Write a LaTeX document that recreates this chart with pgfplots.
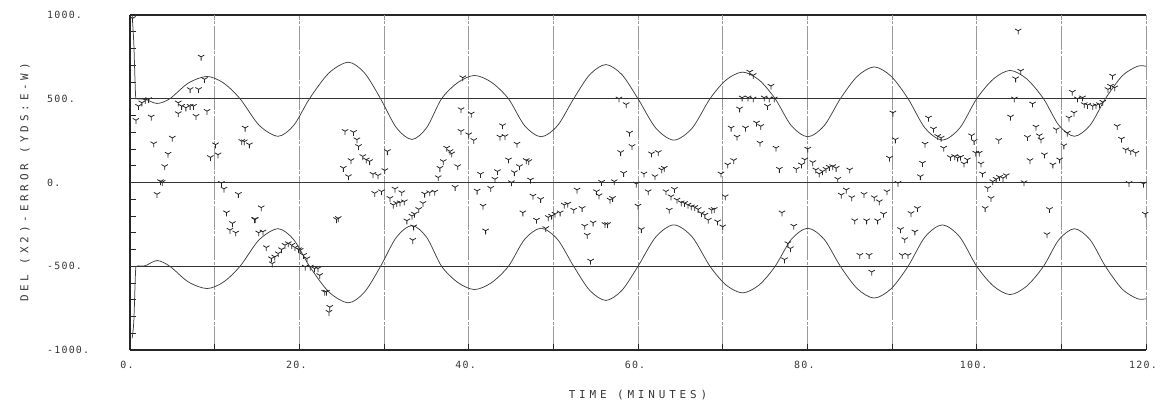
\documentclass[border=0pt]{standalone}
\usepackage{fontspec}
\setmainfont{DejaVu Sans Mono}
\newfontfamily\tickfont[LetterSpace=12]{DejaVu Sans Mono}
\newfontfamily\labfont[LetterSpace=35]{DejaVu Sans Mono}
\usepackage{pgfplots}
\pgfplotsset{compat=1.18}
\usetikzlibrary{plotmarks}

\pgfplotstableread{
t v
0.25 1000
0.45 830
0.65 530
0.8 500
1.8 497
3.2 472
4.7 500
6.9 594
9.1 633
11.05 594
13.0 500
15.25 342
17.5 276
19.35 342
21.2 500
23.5 654
25.8 718
27.7 654
29.6 500
31.45 328
33.3 257
35.05 328
36.8 500
38.75 598
40.7 639
42.7 598
44.7 500
46.6 340
48.55 273
50.5 340
52.4 500
54.3 644
56.2 704
58.1 644
60.0 500
62.1 325
64.25 253
66.4 325
68.5 500
70.4 612
72.35 659
74.3 612
76.2 500
78.1 340
80.05 273
82.0 340
83.9 500
85.9 634
87.9 690
89.9 634
91.9 500
93.9 325
95.95 253
98.0 325
100.0 500
102.0 619
103.95 669
105.9 619
107.9 500
109.7 342
111.55 276
113.4 342
115.2 500
117.2 637
119.0 694
120.0 694
}\upcurve

\pgfplotstableread{
t v
0.25 -930
0.45 -830
0.65 -540
0.8 -500
1.8 -497
3.2 -466
4.7 -500
6.9 -594
9.1 -633
11.05 -594
13.0 -500
15.25 -342
17.5 -276
19.35 -342
21.2 -500
23.5 -654
25.8 -718
27.7 -654
29.6 -500
31.45 -328
33.3 -257
35.05 -328
36.8 -500
38.75 -598
40.7 -639
42.7 -598
44.7 -500
46.6 -340
48.55 -273
50.5 -340
52.4 -500
54.3 -644
56.2 -704
58.1 -644
60.0 -500
62.1 -325
64.25 -253
66.4 -325
68.5 -500
70.4 -612
72.35 -659
74.3 -612
76.2 -500
78.1 -340
80.05 -273
82.0 -340
83.9 -500
85.9 -634
87.9 -690
89.9 -634
91.9 -500
93.9 -325
95.95 -253
98.0 -325
100.0 -500
102.0 -619
103.95 -669
105.9 -619
107.9 -500
109.7 -342
111.55 -276
113.4 -342
115.2 -500
117.2 -637
119.0 -694
120.0 -694
}\lowcurve

\pgfplotstableread{
t v
0.3 980
0.7 372
1.0 456
1.4 476
1.8 492
2.2 496
2.5 392
2.8 232
3.2 -70
3.6 6
3.8 2
4.1 96
4.5 170
5.0 266
5.7 476
5.7 412
6.1 456
6.6 446
7.1 456
7.1 556
7.5 456
7.8 396
8.1 556
8.4 750
8.8 616
9.1 426
9.5 150
10.1 226
10.4 166
10.8 -4
11.1 -38
11.4 -180
11.8 -284
12.1 -244
12.5 -300
12.8 -70
13.2 246
13.5 244
13.6 326
14.1 226
14.7 -220
14.8 -220
15.2 -300
15.5 -150
15.7 -294
16.1 -388
16.7 -454
16.8 -484
17.1 -444
17.5 -424
17.9 -400
18.3 -374
18.7 -364
19.1 -374
19.5 -388
19.9 -400
20.1 -404
20.5 -434
20.7 -504
20.9 -454
21.3 -504
21.8 -514
22.2 -514
22.4 -554
23.0 -654
23.2 -654
23.5 -774
23.6 -744
24.4 -220
24.6 -214
25.2 86
25.4 306
25.8 36
26.1 132
26.4 300
26.8 256
27.0 216
27.5 156
27.9 136
28.3 126
28.7 50
28.9 -64
29.3 42
29.7 -54
30.1 72
30.4 186
30.7 -94
31.1 -134
31.3 -38
31.5 -124
31.9 -120
32.1 -60
32.4 -114
32.7 -228
33.3 -200
33.4 -344
33.5 -264
33.6 -188
34.1 -160
34.6 -124
34.8 -68
35.4 -60
36.0 -56
36.4 30
36.6 86
37.0 126
37.4 206
37.8 186
38.0 172
38.4 -28
38.7 96
39.1 436
39.1 306
39.3 626
40.0 286
40.3 410
40.6 252
41.0 -50
41.4 50
41.7 -140
42.0 -288
42.6 -34
43.1 20
43.4 66
43.7 272
44.0 340
44.3 276
44.7 136
45.05 0
45.4 60
45.7 230
46.0 96
46.4 -180
46.8 132
47.1 126
47.3 16
47.6 -80
48.0 -224
48.5 -100
49.1 -274
49.4 -208
49.8 -200
50.2 -188
50.8 -180
51.3 -134
51.7 -128
52.4 -164
52.8 -44
53.4 -154
53.7 -260
54.0 -314
54.4 -468
54.7 -240
55.1 -54
55.4 -78
55.7 2
56.1 -250
56.4 -250
56.7 -104
57.0 -94
57.2 6
57.75 500
57.95 180
58.3 56
58.6 466
59.0 296
59.3 216
59.8 -8
60.0 -140
60.4 -280
60.7 52
61.2 -54
61.6 172
62.0 36
62.4 180
62.8 76
63.1 86
63.3 -54
63.7 -164
63.9 -84
64.3 -40
64.6 -104
65.1 -120
65.5 -124
65.9 -134
66.3 -144
66.7 -148
67.1 -160
67.5 -184
67.9 -194
68.3 -224
68.7 -164
69.0 -160
69.4 -234
69.8 52
70.0 -264
70.3 -84
70.6 106
71.0 326
71.3 132
71.7 272
72.0 440
72.3 506
72.7 326
73.0 506
73.2 660
73.6 500
73.6 640
74.0 356
74.4 236
74.5 336
74.9 506
75.3 456
75.5 500
75.7 576
76.1 500
76.3 206
76.7 80
77.0 -180
77.3 -460
77.7 -364
78.0 -394
78.4 -260
78.7 80
79.3 106
79.7 136
80.05 200
80.65 120
81.0 76
81.4 52
81.8 66
82.2 80
82.6 92
83.0 96
83.4 86
83.6 20
84.0 -74
84.6 -44
85.0 76
85.25 -90
85.6 -228
86.2 -434
86.7 -70
87.0 -228
87.3 -434
87.6 -534
87.9 -90
88.3 -228
88.5 -114
89.0 -188
89.4 -54
89.7 146
90.1 416
90.4 256
90.7 -4
91.0 -280
91.2 -434
91.5 -340
91.9 -434
92.25 -184
92.7 -294
93.0 -154
93.35 36
93.6 116
93.9 230
94.3 386
94.9 320
95.4 276
95.8 266
96.1 206
96.9 150
97.4 156
97.75 146
98.1 152
98.5 112
98.9 136
99.4 280
99.7 246
99.9 176
100.3 176
100.5 112
100.7 52
101.0 -154
101.3 -34
101.7 -94
101.9 6
102.3 20
102.6 252
102.7 32
103.1 26
103.5 42
104.0 392
104.45 500
104.6 620
104.9 906
105.2 666
105.6 0
106.0 270
106.3 132
106.6 470
107.0 332
107.4 280
107.6 256
108.0 166
108.3 -310
108.6 -160
109.0 106
109.4 316
109.8 136
110.3 220
110.7 296
110.9 386
111.3 540
111.5 416
111.9 500
112.5 506
112.7 466
113.1 462
113.7 456
114.1 460
114.5 466
114.9 480
115.5 556
115.8 576
116.05 636
116.3 566
116.6 336
117.1 260
117.6 196
118.0 -4
118.2 186
118.8 176
119.7 -8
119.9 -188
}\ptsdata

\begin{document}
\begin{tikzpicture}
\begin{axis}[
  at={(0,0)}, anchor=south west,
  scale only axis, width=1016bp, height=335bp,
  xmin=0, xmax=120, ymin=-1000, ymax=1000,
  axis x line*=box, axis y line*=left,
  axis line style={line width=1.1pt, black!85},
  xtick={0,20,...,120},
  xticklabels={0.,20.,40.,60.,80.,100.,120.},
  ytick={-1000,-500,0,500,1000},
  yticklabels={-1000.,-500.,0.,500.,1000.},
  extra x ticks={10,30,50,70,90,110},
  extra x tick labels={},
  extra x tick style={grid=major},
  minor x tick num=0, minor y tick num=4,
  tick pos=left,
  major tick length=6bp, minor tick length=6bp,
  tick style={black!85, line width=0.6pt},
  xmajorgrids=true,
  grid style={black!40, line width=0.45pt, dash pattern=on 24bp off 1.5bp on 3bp off 1.5bp},
  tick label style={font=\tickfont\fontsize{10}{12}\selectfont, text=black!78},
  yticklabel style={anchor=west, inner sep=0pt, xshift=-83bp},
  xticklabel style={anchor=center, inner sep=0pt, yshift=-15bp, xshift=-3bp},
  label style={font=\labfont\fontsize{11}{13}\selectfont, text=black!78},
  xlabel={TIME (MINUTES)},
  ylabel={DEL (X2)-ERROR (YDS:E-W)},
  xlabel style={at={(axis description cs:0.5,-0.1343)}, anchor=center},
  ylabel style={at={(axis description cs:-0.1033,0.5)}, anchor=center},
]
\addplot[black!80, line width=0.8pt] coordinates {(0,500) (120,500)};
\addplot[black!80, line width=0.8pt] coordinates {(0,0) (120,0)};
\addplot[black!80, line width=0.8pt] coordinates {(0,-500) (120,-500)};
\addplot[black!75, line width=0.75pt, smooth, tension=0.5] table {\upcurve};
\addplot[black!75, line width=0.75pt, smooth, tension=0.5] table {\lowcurve};
\addplot[only marks, mark=Mercedes star flipped, mark size=3.7bp,
  mark options={black!85, line width=0.8pt}] table {\ptsdata};
\end{axis}
\pgfresetboundingbox
\useasboundingbox (-130bp,-60bp) rectangle (1038bp,350bp);
\end{tikzpicture}
\end{document}
